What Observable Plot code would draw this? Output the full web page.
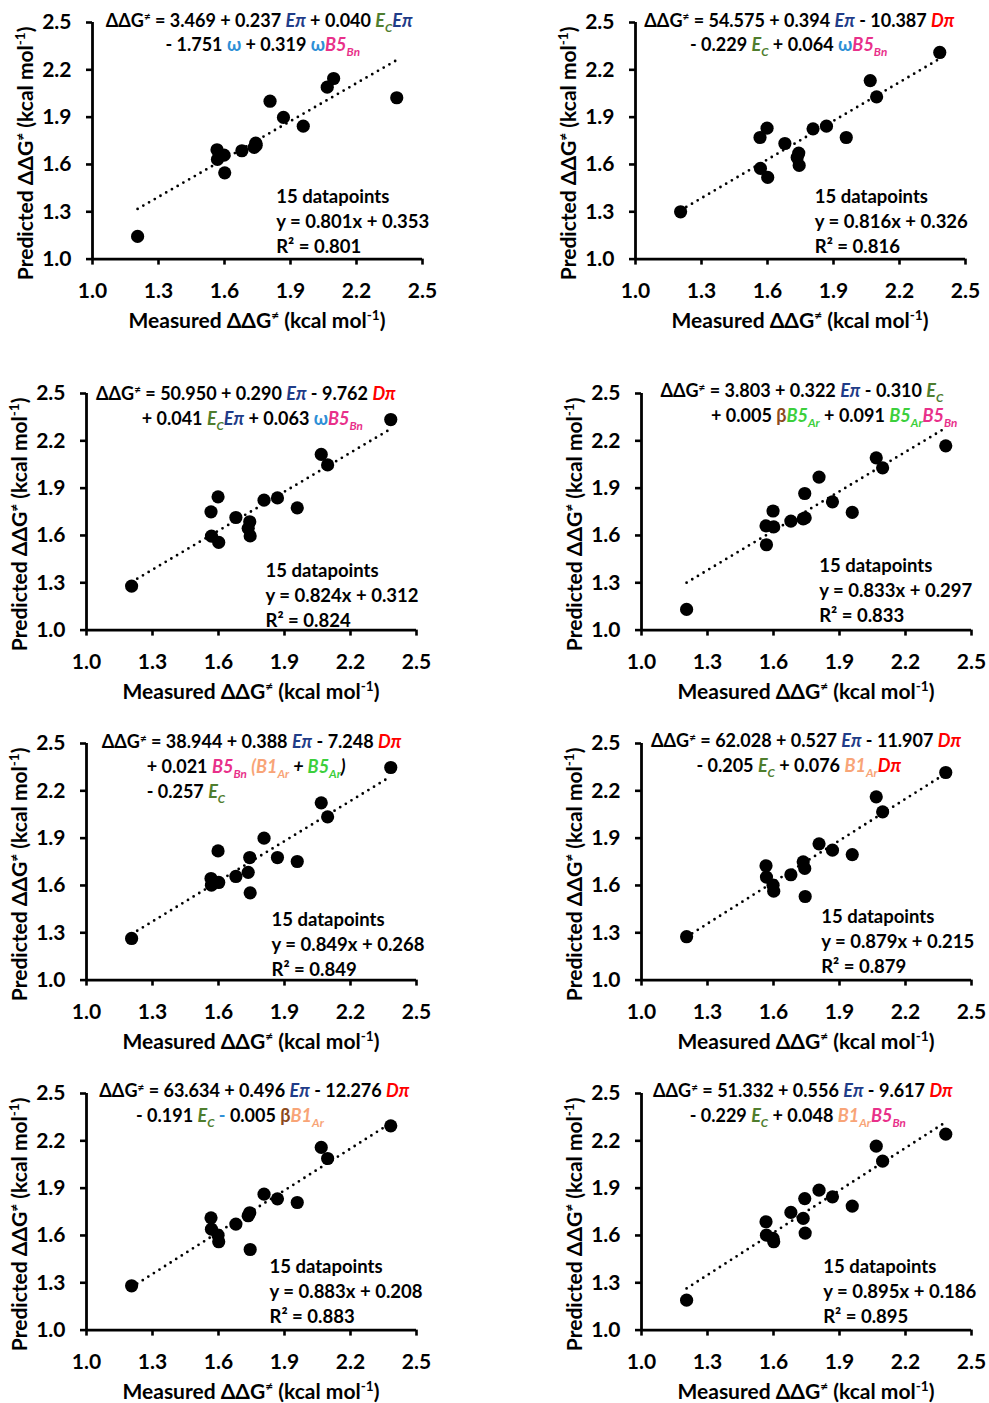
<!DOCTYPE html>
<html><head><meta charset="utf-8">
<script src="https://cdn.jsdelivr.net/npm/d3@7"></script>
<script src="https://cdn.jsdelivr.net/npm/@observablehq/plot@0.6"></script>
<style>
body{margin:0;background:#fff;}
#wrap{position:relative;width:989px;height:1403px;overflow:hidden;background:#fff;}
#wrap svg{position:absolute;}
</style></head><body><div id="wrap"></div>
<script>
// ---------- data ----------
const measured = [1.205, 1.566, 1.568, 1.598, 1.601, 1.679, 1.735, 1.742, 1.744, 1.807, 1.868, 1.958, 2.067, 2.096, 2.383];
const predicted1 = [1.144, 1.693, 1.632, 1.659, 1.547, 1.687, 1.708, 1.735, 1.722, 2.001, 1.898, 1.843, 2.090, 2.145, 2.023];
const predicted2 = [1.300, 1.771, 1.575, 1.830, 1.518, 1.733, 1.644, 1.672, 1.594, 1.826, 1.843, 1.771, 2.132, 2.029, 2.310];
const predicted3 = [1.279, 1.750, 1.596, 1.845, 1.556, 1.714, 1.645, 1.687, 1.597, 1.824, 1.838, 1.775, 2.114, 2.047, 2.335];
const predicted4 = [1.131, 1.661, 1.541, 1.755, 1.654, 1.691, 1.705, 1.866, 1.712, 1.970, 1.813, 1.746, 2.092, 2.029, 2.168];
const predicted5 = [1.264, 1.644, 1.602, 1.819, 1.619, 1.657, 1.683, 1.777, 1.553, 1.900, 1.777, 1.752, 2.124, 2.035, 2.348];
const predicted6 = [1.275, 1.725, 1.653, 1.602, 1.564, 1.668, 1.750, 1.708, 1.530, 1.864, 1.824, 1.796, 2.162, 2.067, 2.316];
const predicted7 = [1.281, 1.712, 1.640, 1.602, 1.560, 1.672, 1.725, 1.744, 1.511, 1.862, 1.832, 1.809, 2.158, 2.088, 2.295];
const predicted8 = [1.190, 1.687, 1.602, 1.581, 1.560, 1.746, 1.708, 1.834, 1.615, 1.887, 1.845, 1.786, 2.166, 2.071, 2.242];
const predictedSets = [predicted1, predicted2, predicted3, predicted4, predicted5, predicted6, predicted7, predicted8];
const slopes = [0.801, 0.816, 0.824, 0.833, 0.849, 0.879, 0.883, 0.895];
const intercepts = [0.353, 0.326, 0.312, 0.297, 0.268, 0.215, 0.208, 0.186];
const rSquared = [0.801, 0.816, 0.824, 0.833, 0.849, 0.879, 0.883, 0.895];
const tickValues = [1.0, 1.3, 1.6, 1.9, 2.2, 2.5];
const xLabel = "Measured ΔΔG{ne} (kcal mol{m1})";
const yLabel = "Predicted ΔΔG{ne} (kcal mol{m1})";
const equations = [
  ["{DDG} = 3.469 + 0.237 {Epi} + 0.040 {EC}{Epi}", "- 1.751 {w} + 0.319 {w}{B5Bn}"],
  ["{DDG} = 54.575 + 0.394 {Epi} - 10.387 {Dpi}", "- 0.229 {EC} + 0.064 {w}{B5Bn}"],
  ["{DDG} = 50.950 + 0.290 {Epi} - 9.762 {Dpi}", "+ 0.041 {EC}{Epi} + 0.063 {w}{B5Bn}"],
  ["{DDG} = 3.803 + 0.322 {Epi} - 0.310 {EC}", "+ 0.005 {beta}{B5Ar} + 0.091 {B5Ar}{B5Bn}"],
  ["{DDG} = 38.944 + 0.388 {Epi} - 7.248 {Dpi}", "+ 0.021 {B5Bn} {lpO}{B1Ar}{plusI}{B5Ar}{rpI}", "- 0.257 {EC}"],
  ["{DDG} = 62.028 + 0.527 {Epi} - 11.907 {Dpi}", "- 0.205 {EC} + 0.076 {B1Ar}{Dpi}"],
  ["{DDG} = 63.634 + 0.496 {Epi} - 12.276 {Dpi}", "- 0.191 {EC} {minusB} 0.005 {beta}{B1Ar}"],
  ["{DDG} = 51.332 + 0.556 {Epi} - 9.617 {Dpi}", "- 0.229 {EC} + 0.048 {B1Ar}{B5Bn}"]
];

// ---------- styles / layout ----------
const NAVY="#1F3C88", GREEN="#4F7D2E", BLUE="#2E8FD6", PINK="#E8308A", RED="#FF0000",
      BROWN="#8B4A1C", LIME="#3CCF3C", ORANGE="#F8A477";
const TOK = {
  DDG:[{t:"ΔΔG"},{t:"≠",sup:true}],
  ne:[{t:"≠",sup:true}],
  m1:[{t:"-1",sup:true}],
  Epi:[{t:"Eπ",c:NAVY,i:true}],
  EC:[{t:"E",c:GREEN,i:true},{t:"C",c:GREEN,i:true,sub:true}],
  w:[{t:"ω",c:BLUE}],
  B5Bn:[{t:"B5",c:PINK,i:true},{t:"Bn",c:PINK,i:true,sub:true}],
  Dpi:[{t:"Dπ",c:RED,i:true}],
  beta:[{t:"β",c:BROWN}],
  B5Ar:[{t:"B5",c:LIME,i:true},{t:"Ar",c:LIME,i:true,sub:true}],
  B1Ar:[{t:"B1",c:ORANGE,i:true},{t:"Ar",c:ORANGE,i:true,sub:true}],
  lpO:[{t:"(",c:ORANGE,i:true}],
  plusI:[{t:" + ",i:true}],
  rpI:[{t:")",i:true}],
  minusB:[{t:"-",c:BLUE}]
};
const FONT = "Lato, 'Open Sans', 'DejaVu Sans', sans-serif";
const ML = 86, MT = 22, PW = 330, PH = 236.6, MR = 18, MB = 92.4;
const W = ML + PW + MR, H = MT + PH + MB;
const plotLeft = [92.3, 634.7, 86, 641.3, 86, 641.3, 86, 641.3];
const plotTop = [21.7, 21.7, 393.3, 393.3, 743.3, 743.3, 1093.3, 1093.3];
const statsDX = [183.7, 179.3, 179, 177.7, 185, 179.7, 183, 181.7];
const statsFirstY = [172.3, 172.3, 175.7, 170.7, 174.7, 171.7, 171.7, 171.7];
const eqPos = [
  [[106,20.7],[165.7,45]],
  [[644,20.7],[689.7,45]],
  [[96,394],[141.7,419.3]],
  [[660.7,391.7],[711.3,416.7]],
  [[101.7,742.7],[146.7,767.7],[146.7,792.7]],
  [[651.3,741.7],[696.7,766.7]],
  [[99.3,1091.7],[136,1116.7]],
  [[653.3,1091.7],[690,1116.7]]
];
const EQ_FS = 18, STAT_FS = 18.5, TICK_FS = 21, LABEL_FS = 21;

function addRich(textSel, str, fs) {
  const parts = str.split(/(\{\w+\})/).filter(s => s.length);
  let shift = 0;
  for (const p of parts) {
    const key = p[0] === "{" ? p.slice(1, -1) : null;
    const segs = key && TOK[key] ? TOK[key] : [{t: p}];
    for (const s of segs) {
      const ts = textSel.append("tspan").text(s.t);
      const target = s.sub ? 0.25 * fs : s.sup ? -0.38 * fs : 0;
      if (target !== shift) { ts.attr("dy", target - shift); shift = target; }
      if (s.sub || s.sup) ts.attr("font-size", 0.65 * fs);
      if (s.c) ts.attr("fill", s.c);
      if (s.i) ts.attr("font-style", "italic");
    }
  }
}

const fmt = d3.format(".1f");
const wrap = document.getElementById("wrap");

predictedSets.forEach((pred, i) => {
  const pts = measured.map((x, k) => ({x, y: pred[k]}));
  const [xmin, xmax] = d3.extent(measured);
  const trend = [xmin, xmax].map(x => ({x, y: slopes[i] * x + intercepts[i]}));
  const stats = `${measured.length} datapoints\ny = ${slopes[i].toFixed(3)}x + ${intercepts[i].toFixed(3)}\nR² = ${rSquared[i].toFixed(3)}`;
  const svg = Plot.plot({
    width: W, height: H, marginLeft: ML, marginTop: MT, marginRight: MR, marginBottom: MB,
    x: {domain: [1, 2.5]},
    y: {domain: [1, 2.5]},
    style: {fontFamily: FONT, fontSize: TICK_FS + "px", fontWeight: "bold", color: "#000", background: "transparent", overflow: "visible"},
    marks: [
      Plot.axisX({ticks: tickValues, tickFormat: fmt, tickSize: 6, tickPadding: 18, strokeWidth: 2.6, label: null}),
      Plot.axisY({ticks: tickValues, tickFormat: fmt, tickSize: 6, tickPadding: 15, strokeWidth: 2.6, label: null}),
      Plot.ruleY([1], {stroke: "#000", strokeWidth: 2.8}),
      Plot.ruleX([1], {stroke: "#000", strokeWidth: 2.8}),
      Plot.line(trend, {x: "x", y: "y", stroke: "#000", strokeWidth: 2.8, strokeLinecap: "round", strokeDasharray: "0,6.6"}),
      Plot.dot(pts, {x: "x", y: "y", r: 6.6, fill: "#000", stroke: "none"}),
      Plot.text([stats], {text: d => d, frameAnchor: "top-left", dx: statsDX[i], dy: statsFirstY[i] + 25, textAnchor: "start", lineAnchor: "middle", lineHeight: 25 / STAT_FS, fontSize: STAT_FS, fontWeight: "bold", fill: "#000"})
    ]
  });
  const left = plotLeft[i] - ML, top = plotTop[i] - MT;
  svg.style.left = left + "px";
  svg.style.top = top + "px";
  const s = d3.select(svg);
  // axis labels
  const xl = s.append("text").attr("x", ML + PW / 2).attr("y", MT + PH + 69)
    .attr("text-anchor", "middle").attr("font-size", LABEL_FS).attr("font-weight", "bold").attr("fill", "#000").style("white-space", "pre");
  addRich(xl, xLabel, LABEL_FS);
  const yl = s.append("text").attr("transform", `translate(${ML - 59},${MT + PH / 2 + 13}) rotate(-90)`)
    .attr("text-anchor", "middle").attr("font-size", LABEL_FS).attr("font-weight", "bold").attr("fill", "#000").style("white-space", "pre");
  addRich(yl, yLabel, LABEL_FS);
  // equation
  equations[i].forEach((line, j) => {
    const [px, py] = eqPos[i][j];
    const t = s.append("text").attr("x", px - left).attr("y", py - top + 6)
      .attr("text-anchor", "start")
      .attr("font-size", EQ_FS).attr("font-weight", "bold").attr("fill", "#000").style("white-space", "pre");
    addRich(t, line, EQ_FS);
  });
  wrap.appendChild(svg);
});
</script></body></html>
